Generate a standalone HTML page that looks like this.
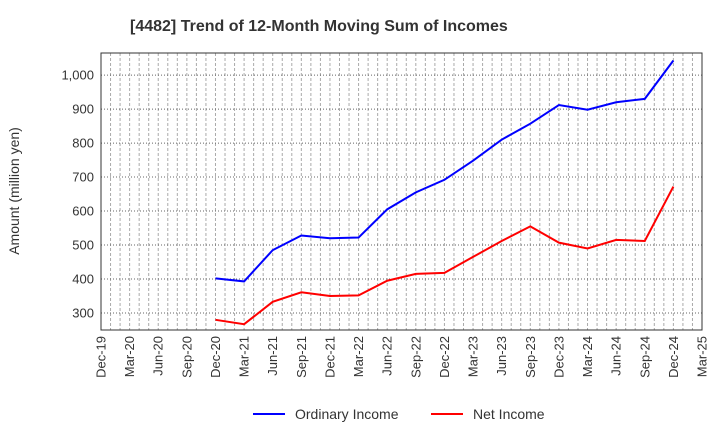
<!DOCTYPE html>
<html><head><meta charset="utf-8"><style>
body{margin:0;background:#fff;font-family:"Liberation Sans",sans-serif;}
</style></head><body>
<svg id="chart" width="720" height="440" xmlns="http://www.w3.org/2000/svg" font-family="Liberation Sans, sans-serif">
<text x="130" y="31" font-size="16" font-weight="bold" fill="#333">[4482]  Trend of 12-Month Moving Sum of Incomes</text>
<text transform="translate(19,191) rotate(-90)" text-anchor="middle" font-size="14" fill="#333">Amount (million yen)</text>
<g id="grid"></g><g id="axes"></g><g id="series"></g>
<g>
<line x1="253" y1="414" x2="285" y2="414" stroke="#0000ff" stroke-width="2"/>
<text x="295" y="419" font-size="14" fill="#333">Ordinary Income</text>
<line x1="431" y1="414" x2="463" y2="414" stroke="#ff0000" stroke-width="2"/>
<text x="473" y="419" font-size="14" fill="#333">Net Income</text>
</g>
</svg>
<script>
const xLabels=["Dec-19","Mar-20","Jun-20","Sep-20","Dec-20","Mar-21","Jun-21","Sep-21","Dec-21","Mar-22","Jun-22","Sep-22","Dec-22","Mar-23","Jun-23","Sep-23","Dec-23","Mar-24","Jun-24","Sep-24","Dec-24","Mar-25"];
const yTicks=[300,400,500,600,700,800,900,1000];
const ordinaryIncome=[402,393,485,528,520,522,605,655,692,748,810,857,912,898,920,930,1043];
const netIncome=[280,267,333,361,350,352,395,415,418,465,512,555,507,490,515,512,672];
const startIndex=4;
const L=101,R=702,T=53,B=330,ymin=250,ymax=1065;
const xs=i=>L+i*(R-L)/(xLabels.length-1);
const ys=v=>B-(v-ymin)/(ymax-ymin)*(B-T);
const NS="http://www.w3.org/2000/svg";
function mk(tag,attrs,parent){const e=document.createElementNS(NS,tag);for(const k in attrs)e.setAttribute(k,attrs[k]);parent.appendChild(e);return e;}
const grid=document.getElementById('grid'),axes=document.getElementById('axes'),series=document.getElementById('series');
for(let m=1;m<(xLabels.length-1)*3;m++){
 const x=xs(m/3);
 const g=mk('line',{x1:x,y1:T,x2:x,y2:B,stroke:'#aaa','stroke-dasharray':'3,2','stroke-width':1},grid);
 
 
}
xLabels.forEach((l,i)=>{
 const x=xs(i);
 const t=mk('text',{transform:`translate(${x+4.5},${B+6}) rotate(-90)`,'text-anchor':'end','font-size':13,fill:'#333'},axes);
 t.textContent=l;
 
 
});
yTicks.forEach(v=>{
 const y=ys(v);
 const g=mk('line',{x1:L,y1:y,x2:R,y2:y,stroke:'#666','stroke-dasharray':'1,2','stroke-width':1},grid);
 
 
 const t=mk('text',{x:L-7,y:y+4.5,'text-anchor':'end','font-size':13,fill:'#333'},axes);
 t.textContent=v>=1000?v.toLocaleString('en-US'):v;
 
 
});
const frame=mk('rect',{x:L,y:T,width:R-L,height:B-T,fill:'none',stroke:'#333','stroke-width':1},axes);


function line(data,color,name){
 const pts=data.map((v,i)=>xs(i+startIndex)+','+ys(v)).join(' ');
 const p=mk('polyline',{points:pts,fill:'none',stroke:color,'stroke-width':2},series);
 
 
}
line(ordinaryIncome,'#0000ff','ordinary-income-line');
line(netIncome,'#ff0000','net-income-line');
</script>
</body></html>
